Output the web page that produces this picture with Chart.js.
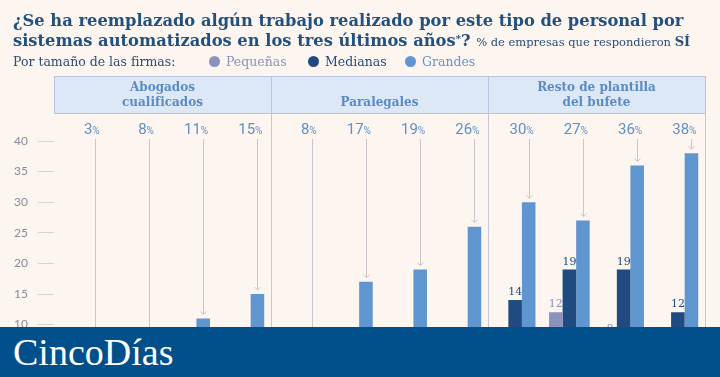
<!DOCTYPE html>
<html lang="es">
<head>
<meta charset="utf-8">
<script src="https://cdn.jsdelivr.net/npm/chart.js@4/dist/chart.umd.min.js"></script>
<style>
html,body{margin:0;padding:0;background:#fdf5ef;overflow:hidden}
#wrap{position:relative;width:720px;height:377px;overflow:hidden;background:#fdf5ef}
#chart{position:absolute;left:0;top:0}
.t{position:absolute;left:13px;white-space:nowrap;font-family:"DejaVu Serif",serif;font-weight:bold;color:#22507f;font-size:16.6px;line-height:19px}
.t small{font-weight:normal;font-size:11.5px;color:#2b4d7a}
.t small b{font-weight:bold;font-size:13px}
.t sup{font-size:10px;vertical-align:4px}
.lg{position:absolute;top:54px;white-space:nowrap;font-family:"DejaVu Serif",serif;font-size:12.5px;line-height:16px;color:#2b4d7a}
.dot{display:inline-block;width:11px;height:11px;border-radius:50%;vertical-align:-1px;margin-right:6px}
#banner{position:absolute;left:0;top:327px;width:720px;height:50px;background:#02508b}
#banner span{position:absolute;left:13px;top:3px;font-family:"Liberation Serif",serif;font-size:38px;line-height:44px;color:#fff}
</style>
</head>
<body>
<div id="wrap">
  <canvas id="chart" width="720" height="403"></canvas>
  <div class="t" id="t1" style="top:11px">¿Se ha reemplazado algún trabajo realizado por este tipo de personal por</div>
  <div class="t" id="t2" style="top:29px">sistemas automatizados en los tres últimos años<sup>*</sup>? <small>% de empresas que respondieron <b>SÍ</b></small></div>
  <div class="lg" style="left:13px">Por tamaño de las firmas:</div>
  <div class="lg" style="left:209px;color:#8a93bd"><span class="dot" style="background:#8a93bd"></span>Pequeñas</div>
  <div class="lg" style="left:308px;color:#1f4b80"><span class="dot" style="background:#1f4b80"></span>Medianas</div>
  <div class="lg" style="left:405px;color:#5f96d0"><span class="dot" style="background:#5f96d0"></span>Grandes</div>
  <div id="banner"><span>CincoDías</span></div>
</div>
<script>
// groups of 4 categories each (bottom labels are cut off in the original)
const groups = [['Abogados', 'cualificados'], ['Paralegales'], ['Resto de plantilla', 'del bufete']];
const categories = ['Abogados 1', 'Abogados 2', 'Abogados 3', 'Abogados 4',
  'Paralegales 1', 'Paralegales 2', 'Paralegales 3', 'Paralegales 4',
  'Resto 1', 'Resto 2', 'Resto 3', 'Resto 4'];
const seriesNames = ['Pequeñas', 'Medianas', 'Grandes'];
// values under ~8 are hidden by the banner, estimated low
const pequenas = [1, 2, 3, 4, 1, 3, 4, 5, 4, 12, 8, 5];
const medianas = [2, 4, 5, 6, 3, 5, 6, 6, 14, 19, 19, 12];
const grandes = [3, 8, 11, 15, 8, 17, 19, 26, 30, 27, 36, 38];
const yTicks = [0, 5, 10, 15, 20, 25, 30, 35, 40];

const colors = ['#8a93bd', '#1f4b80', '#5f96d0'];
const labelColors = ['#8a93bd', '#1f4b80'];

// fit the title's first line to the original width
const t1 = document.getElementById('t1');
const k = 671 / t1.getBoundingClientRect().width;
['t1', 't2'].forEach(id => { document.getElementById(id).style.fontSize = (16.6 * k) + 'px'; });

const overlay = {
  id: 'overlay',
  beforeDatasetsDraw(chart) {
    const {ctx, chartArea: a, scales: {x}} = chart;
    const g = chart.getDatasetMeta(2).data;
    ctx.save();
    // header boxes
    groups.forEach((lines, gi) => {
      const x0 = x.getPixelForValue(gi * 4 - 0.5), x1 = x.getPixelForValue(gi * 4 + 3.5);
      ctx.fillStyle = '#dde8f6';
      ctx.fillRect(x0, 76, x1 - x0, 38);
      ctx.strokeStyle = '#b7c5de'; ctx.lineWidth = 1;
      ctx.strokeRect(Math.round(x0) + 0.5, 76.5, Math.round(x1 - x0), 37);
      ctx.fillStyle = '#5b8bc6';
      ctx.font = 'bold 12px "DejaVu Serif", serif';
      ctx.textAlign = 'center'; ctx.textBaseline = 'middle';
      const cx = (x0 + x1) / 2;
      if (lines.length == 2) { ctx.fillText(lines[0], cx, 88); ctx.fillText(lines[1], cx, 103); }
      else ctx.fillText(lines[0], cx, 103);
      // separator down through the plot
      ctx.strokeStyle = '#cbc4d1';
      ctx.beginPath(); ctx.moveTo(Math.round(x1) + 0.5, 114); ctx.lineTo(Math.round(x1) + 0.5, a.bottom); ctx.stroke();
    });
    // arrows from percent labels to the Grandes bars
    ctx.strokeStyle = '#cdc3cd'; ctx.lineWidth = 1;
    g.forEach((bar, i) => {
      const bx = Math.round(bar.x) + 0.5;
      const end = Math.min(bar.y - 4, a.bottom);
      ctx.beginPath(); ctx.moveTo(bx, 139); ctx.lineTo(bx, end); ctx.stroke();
      if (bar.y - 4 < a.bottom - 10) {
        ctx.beginPath(); ctx.moveTo(bx - 3, end - 3); ctx.lineTo(bx, end); ctx.lineTo(bx + 3, end - 3); ctx.stroke();
      }
      // percent label
      const num = String(grandes[i]);
      ctx.textBaseline = 'alphabetic'; ctx.textAlign = 'left';
      ctx.font = '10px "Liberation Sans Narrow", Roboto, sans-serif';
      const pw = ctx.measureText('%').width;
      ctx.font = '15px "Liberation Sans Narrow", Roboto, sans-serif';
      const nw = ctx.measureText(num).width;
      const right = bar.x + 5;
      ctx.fillStyle = '#5e8fcc';
      ctx.fillText(num, right - pw - nw, 134);
      ctx.font = '10px "Liberation Sans Narrow", Roboto, sans-serif';
      ctx.fillText('%', right - pw, 134);
    });
    ctx.restore();
  },
  afterDatasetsDraw(chart) {
    const {ctx} = chart;
    ctx.save();
    ctx.font = '11px "DejaVu Serif", serif';
    ctx.textAlign = 'center'; ctx.textBaseline = 'alphabetic';
    [0, 1].forEach(d => {
      const vals = chart.data.datasets[d].data;
      chart.getDatasetMeta(d).data.forEach((bar, i) => {
        ctx.fillStyle = labelColors[d];
        ctx.fillText(String(vals[i]), bar.x, bar.y - 5);
      });
    });
    ctx.restore();
  }
};

new Chart(document.getElementById('chart'), {
  type: 'bar',
  data: {
    labels: categories,
    datasets: [pequenas, medianas, grandes].map((d, i) => ({
      label: seriesNames[i], data: d, backgroundColor: colors[i], borderWidth: 0
    }))
  },
  options: {
    responsive: false,
    animation: false,
    devicePixelRatio: 1,
    layout: {padding: {top: 141, right: 15, bottom: 0, left: 0}},
    datasets: {bar: {categoryPercentage: 0.75, barPercentage: 1}},
    plugins: {legend: {display: false}, tooltip: {enabled: false}},
    scales: {
      x: {display: false},
      y: {
        min: 0, max: 40,
        afterBuildTicks(s) { s.ticks = yTicks.map(v => ({value: v})); },
        afterFit(s) { s.width = 54; },
        border: {display: false},
        grid: {drawOnChartArea: false, drawTicks: true, tickLength: 16, color: '#d8d1d5'},
        ticks: {padding: 10, color: '#8a8c9c', font: {family: 'Lato', size: 12}}
      }
    }
  },
  plugins: [overlay]
});
</script>
</body>
</html>
